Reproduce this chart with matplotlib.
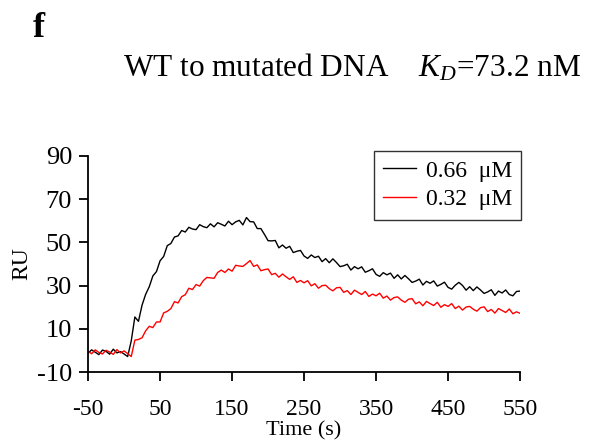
import matplotlib
matplotlib.use("Agg")
import matplotlib.pyplot as plt
import numpy as np

plt.rcParams['font.family'] = ['Liberation Serif', 'DejaVu Serif']
plt.rcParams['mathtext.fontset'] = 'custom'
plt.rcParams['mathtext.rm'] = 'Liberation Serif'
plt.rcParams['mathtext.it'] = 'Liberation Serif:italic'
plt.rcParams['axes.unicode_minus'] = False

# time grid (s), every 5 s
time = np.arange(-50, 551, 5)

# 0.66 uM response (RU)
ru_066 = [-1.2, 0.3, -0.8, -1.9, 0.2, -0.4, -1.7, 0.6, -1.1, -0.5,   # -50..-5
          -1.6, -2.8, 4.5, 15.5, 13.5, 21, 26, 29.5, 34.5, 36.5,     # 0..45
          41.5, 43.5, 48.5, 49.5, 52.5, 53, 55.5, 54.8, 57, 56.2,    # 50..95
          55.9, 58.2, 57.3, 56.8, 58.6, 57.2, 59.1, 58.4, 57.6, 59.8,  # 100..145
          58.2, 59.5, 60.2, 58.1, 61.5, 59.6, 59.5, 56.4, 56.4, 53.7,  # 150..195
          50.8, 50.7, 50.9, 47.5, 48.8, 47.3, 48.2, 45.3, 45.9, 46.3,  # 200..245
          43.7, 42.6, 44.2, 43.0, 43.6, 41.1, 42.5, 40.6, 42.4, 40.7,  # 250..295
          38.8, 39.2, 39.9, 37.2, 38.8, 37.8, 38.7, 36.2, 36.9, 37.8,  # 300..345
          35.2, 34.3, 36.0, 35.0, 35.8, 33.4, 35.0, 33.1, 34.7, 33.2,  # 350..395
          31.5, 32.1, 33.0, 30.3, 32.0, 31.1, 32.2, 29.8, 30.6, 31.6,  # 400..445
          29.2, 28.4, 30.2, 31.5, 30.1, 27.9, 29.5, 27.7, 29.4, 28.0,  # 450..495
          26.4, 27.1, 28.1, 25.5, 27.5, 26.6, 28.0, 25.9, 25.3, 27.3,  # 500..545
          27.5]                                                        # 550

# 0.32 uM response (RU)
ru_032 = [-0.4, -1.5, 0.3, -0.9, -1.6, 0.1, -0.7, -1.8, 0.4, -1.1,   # -50..-5
          -0.2, -1.4, -2.8, 4.8, 5.1, 5.9, 9.1, 11.2, 10.6, 13.2,    # 0..45
          13.2, 17.4, 18.1, 19.4, 22.6, 22.0, 24.9, 25.8, 28.8, 28.2,  # 50..95
          30.5, 29.8, 32.3, 33.8, 33.6, 33.4, 36.1, 37.2, 36.1, 37.7,  # 100..145
          36.7, 39.4, 39.1, 38.9, 40.2, 41.6, 38.9, 39.6, 36.9, 37.4,  # 150..195
          37.7, 35.1, 35.7, 33.9, 35.4, 34.1, 32.9, 34.1, 31.5, 32.4,  # 200..245
          31.3, 32.3, 29.9, 30.9, 28.8, 30.0, 30.2, 28.6, 27.6, 29.0,  # 250..295
          29.2, 26.9, 27.7, 25.9, 27.9, 26.9, 25.9, 27.3, 25.0, 26.1,  # 300..345
          25.3, 26.5, 24.2, 25.2, 23.3, 24.5, 24.8, 23.3, 22.3, 23.7,  # 350..395
          24.0, 21.6, 22.5, 20.7, 22.7, 21.7, 20.8, 22.3, 20.0, 21.2,  # 400..445
          20.4, 21.7, 19.4, 20.5, 18.7, 20.1, 20.4, 19.1, 18.2, 19.8,  # 450..495
          20.2, 18.0, 19.0, 17.3, 19.4, 18.5, 17.6, 19.2, 17.0, 17.9,  # 500..545
          17.2]                                                        # 550

labels = ['0.66  \u03bcM', '0.32  \u03bcM']
xticks = [-50, 50, 150, 250, 350, 450, 550]
yticks = [-10, 10, 30, 50, 70, 90]

fig = plt.figure(figsize=(5.91, 4.43), dpi=100)
ax = fig.add_axes([0.149, 0.160, 0.731, 0.488])

ax.plot(time, ru_066, color='black', lw=1.0, label=labels[0])
ax.plot(time, ru_032, color='red', lw=1.0, label=labels[1])

ax.set_xlim(-50, 550)
ax.set_ylim(-10, 90)
ax.set_xticks(xticks)
ax.set_yticks(yticks)
ax.spines['top'].set_visible(False)
ax.spines['right'].set_visible(False)
for s in ['left', 'bottom']:
    ax.spines[s].set_linewidth(1.3)
ax.tick_params(direction='out', length=6.5, width=1.3)
ax.tick_params(axis='x', pad=13, labelsize=17)
ax.tick_params(axis='y', pad=5, labelsize=19)

ax.set_xlabel('Time (s)', fontsize=16, labelpad=1)
ax.set_ylabel('RU', fontsize=17, labelpad=3)

leg = ax.legend(loc='upper right', bbox_to_anchor=(1.003, 1.025), fontsize=17,
                frameon=True, fancybox=False, edgecolor='black',
                handlelength=1.4, handletextpad=0.4, borderpad=0.4,
                labelspacing=0.3, borderaxespad=0)
leg.get_frame().set_linewidth(1.0)

fig.text(0.055, 0.935, 'f', fontsize=26, fontweight='bold', ha='left', va='center')
fig.text(0.595, 0.848, 'WT to mutated DNA    $K_D$=73.2 nM', fontsize=22.5,
         ha='center', va='center')

fig.savefig('out.png', dpi=100)
